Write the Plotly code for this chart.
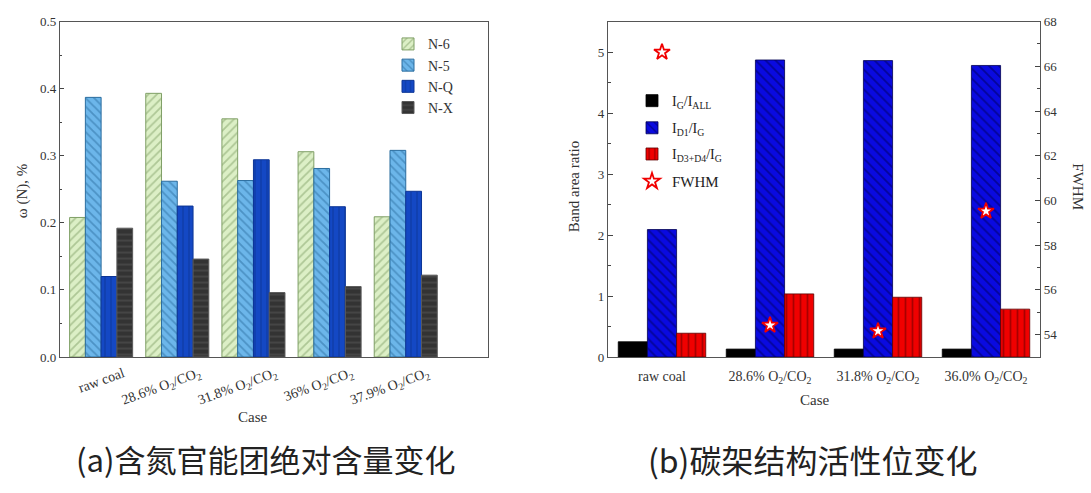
import plotly.graph_objects as go

# ---- Panel (a) data ----
cases_a = ["raw coal", "28.6% O<sub>2</sub>/CO<sub>2</sub>", "31.8% O<sub>2</sub>/CO<sub>2</sub>",
           "36% O<sub>2</sub>/CO<sub>2</sub>", "37.9% O<sub>2</sub>/CO<sub>2</sub>"]
n6 = [0.208, 0.393, 0.355, 0.306, 0.209]
n5 = [0.387, 0.262, 0.263, 0.281, 0.308]
nq = [0.120, 0.225, 0.294, 0.224, 0.247]
nx = [0.192, 0.146, 0.096, 0.105, 0.122]

# ---- Panel (b) data ----
cases_b = ["raw coal", "28.6% O<sub>2</sub>/CO<sub>2</sub>", "31.8% O<sub>2</sub>/CO<sub>2</sub>",
           "36.0% O<sub>2</sub>/CO<sub>2</sub>"]
ig_iall = [0.25, 0.13, 0.13, 0.13]
id1_ig = [2.09, 4.87, 4.86, 4.78]
id34_ig = [0.39, 1.035, 0.98, 0.785]
fwhm = [66.63, 54.42, 54.16, 59.52]

serif = "Liberation Serif"
W, H = 1091, 493

def px(x):
    return x / W

def py(y):
    return 1 - y / H

fig = go.Figure()

# Panel (a) bars
specs_a = [
    ("N-6", n6, "#dcefc6", "#7f9f66", "/"),
    ("N-5", n5, "#6cb6ea", "#2b6d9f", "\\"),
    ("N-Q", nq, "#1448c4", "#0c3596", "|"),
    ("N-X", nx, "#333333", "#5a5a5a", "-"),
]
wa = 0.207
for i, (name, vals, bg, fg, shp) in enumerate(specs_a):
    fig.add_trace(go.Bar(
        x=list(range(len(cases_a))), y=vals, name=name, xaxis="x", yaxis="y",
        width=wa, offset=-2 * wa + i * wa,
        marker=dict(color=bg, line=dict(color=fg, width=1),
                    pattern=dict(shape=shp, bgcolor=bg, fgcolor=fg, size=6, solidity=0.3)),
        legend="legend",
    ))

# Panel (b) bars
specs_b = [
    ("I<sub>G</sub>/I<sub>ALL</sub>", ig_iall, "#000000", "#000000", ""),
    ("I<sub>D1</sub>/I<sub>G</sub>", id1_ig, "#0a0ae0", "#000050", "\\"),
    ("I<sub>D3+D4</sub>/I<sub>G</sub>", id34_ig, "#f00000", "#600000", "|"),
]
wb = 0.27
legs_b = ["legend2", "legend3", "legend4"]
for i, (name, vals, bg, fg, shp) in enumerate(specs_b):
    fig.add_trace(go.Bar(
        x=list(range(len(cases_b))), y=vals, name=name, xaxis="x2", yaxis="y2",
        width=wb, offset=-1.5 * wb + i * wb,
        marker=dict(color=bg, line=dict(color=fg, width=0.8),
                    pattern=dict(shape=shp, bgcolor=bg, fgcolor=fg, size=7, solidity=0.25)),
        legend=legs_b[i],
    ))

fig.add_trace(go.Scatter(
    x=list(range(len(cases_b))), y=fwhm, name="FWHM", mode="markers",
    xaxis="x2", yaxis="y3",
    marker=dict(symbol="star", size=12, color="white", line=dict(color="#f00000", width=1.8)),
    legend="legend5",
))

axis_common = dict(showline=True, linecolor="#555555", linewidth=1.2, mirror=True,
                   showgrid=False, zeroline=False)
tf = dict(family=serif, size=13, color="#333333")

def leg(x, y, size=14):
    return dict(x=px(x), y=py(y), xanchor="left", yanchor="middle",
                bgcolor="rgba(0,0,0,0)", font=dict(family=serif, size=size, color="#222222"),
                itemwidth=30, tracegroupgap=0)

fig.update_layout(
    width=W, height=H, margin=dict(l=0, r=0, t=0, b=0),
    plot_bgcolor="white", paper_bgcolor="white",
    barmode="overlay",
    showlegend=True,
    xaxis=dict(domain=[px(60), px(488)], range=[-0.54, 5.08], anchor="y",
               tickmode="array", tickvals=list(range(len(cases_a))), ticktext=cases_a,
               tickangle=-20, ticks="", ticklabelshift=22, ticklabelstandoff=2,
               tickfont=dict(family=serif, size=14, color="#333333"), **axis_common),
    yaxis=dict(domain=[py(361), py(15)], range=[0, 0.5], anchor="x",
               tickmode="linear", tick0=0, dtick=0.1, tickformat=".1f",
               ticks="inside", ticklen=4, minor=dict(ticks="inside", ticklen=2, dtick=0.05),
               tickfont=tf, **axis_common),
    xaxis2=dict(domain=[px(608), px(1040)], range=[-0.5, 3.5], anchor="y2",
                tickmode="array", tickvals=list(range(len(cases_b))), ticktext=cases_b,
                ticks="", ticklabelstandoff=6,
                tickfont=dict(family=serif, size=14, color="#333333"), **axis_common),
    yaxis2=dict(domain=[py(361), py(15)], range=[0, 5.5], anchor="x2",
                tickmode="linear", tick0=0, dtick=1,
                ticks="inside", ticklen=5, minor=dict(ticks="inside", ticklen=3, dtick=0.5),
                tickfont=tf, **axis_common),
    yaxis3=dict(overlaying="y2", side="right", anchor="x2", range=[53, 68],
                tickmode="array", tickvals=[54, 56, 58, 60, 62, 64, 66, 68],
                ticks="inside", ticklen=5, minor=dict(ticks="inside", ticklen=3, dtick=1),
                showline=True, linecolor="#555555", linewidth=1.2,
                tickfont=tf, showgrid=False, zeroline=False),
    legend=dict(x=px(388), y=py(22), xanchor="left", yanchor="top",
                bgcolor="rgba(0,0,0,0)", font=dict(family=serif, size=14, color="#333333"),
                itemwidth=30, tracegroupgap=0),
    legend2=leg(632, 97),
    legend3=leg(632, 125),
    legend4=leg(632, 152),
    legend5=leg(632, 180, 15),
)

annots = [
    dict(text="ω (N), %", x=px(22), y=py(190), textangle=-90),
    dict(text="Case", x=px(253), y=py(423)),
    dict(text="Band area ratio", x=px(574), y=py(185), textangle=-90),
    dict(text="Case", x=px(815), y=py(405)),
    dict(text="FWHM", x=px(1078), y=py(185), textangle=90),
]
for a in annots:
    fig.add_annotation(xref="paper", yref="paper", showarrow=False,
                       xanchor="center", yanchor="middle",
                       font=dict(family=serif, size=15, color="#333333"), **a)

fig.add_annotation(text="(a)含氮官能团绝对含量变化", xref="paper", yref="paper",
                   x=px(265), y=py(466), showarrow=False, xanchor="center", yanchor="middle",
                   font=dict(family="Noto Sans CJK SC", size=31, color="#222222"))
fig.add_annotation(text="(b)碳架结构活性位变化", xref="paper", yref="paper",
                   x=px(812), y=py(466), showarrow=False, xanchor="center", yanchor="middle",
                   font=dict(family="Noto Sans CJK SC", size=32, color="#222222"))

fig.write_html("out.html")
